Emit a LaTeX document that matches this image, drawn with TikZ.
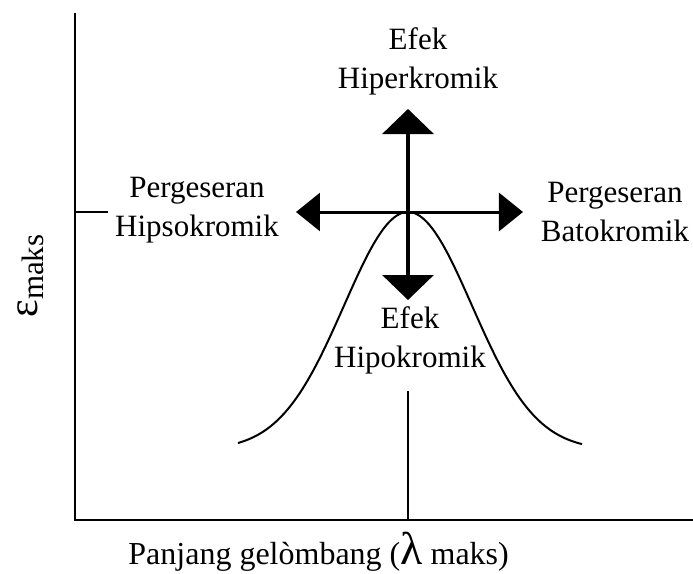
\documentclass[tikz,border=0pt]{standalone}
\usepackage{fontspec}
\setmainfont{Liberation Serif}
\usetikzlibrary{arrows.meta}
\begin{document}
\begin{tikzpicture}[x=0.5pt,y=-0.5pt,
  axis/.style={line width=1pt},
  curve/.style={line width=1pt},
  guide/.style={line width=0.6pt},
  vshift/.style={line width=1.8pt,-{Triangle[length=12.5pt,width=25.5pt]}},
  hshift/.style={line width=1.5pt,-{Triangle[length=12pt,width=19pt]}},
  lbl/.style={font=\fontsize{15.5}{19.5}\selectfont, align=center, inner sep=0pt}]
\useasboundingbox (0,0) rectangle (693,574);

% axes
\coordinate (ytop) at (75,13);
\coordinate (origin) at (75,520);
\coordinate (xend) at (693,520);
\draw[axis] (ytop) -- (origin) -- (xend);

% key points
\coordinate (peak) at (408,212);
\coordinate (up) at (408,109);
\coordinate (down) at (408,300);
\coordinate (left) at (296,212);
\coordinate (right) at (523,212);
\coordinate (tickL) at (75,212);
\coordinate (tickR) at (108,212);
\coordinate (lamtop) at (408,391);
\coordinate (lambase) at (408,520);

% guides for epsilon max and lambda max
\draw[guide] (tickL) -- (tickR);
\draw[guide] (lamtop) -- (lambase);

% absorption band
\draw[curve] plot[domain=238:582, samples=120, smooth]
  (\x,{450-238*exp(0-((\x-408)/100)*((\x-408)/100)/0.819)});

% shift arrows
\draw[vshift] (peak) -- (up);
\draw[vshift] (peak) -- (down);
\draw[hshift] (peak) -- (left);
\draw[hshift] (peak) -- (right);

% labels (base anchor = baseline of the last line)
\node[lbl, anchor=base] (hyper) at (418,88) {Efek\\Hiperkromik};
\node[lbl, anchor=base] (hypso) at (197,236) {Pergeseran\\Hipsokromik};
\node[lbl, anchor=base] (batho) at (615,241) {Pergeseran\\Batokromik};
\node[lbl, anchor=base] (hypo) at (410,367) {Efek\\Hipokromik};

\node[lbl, font=\fontsize{16}{19.5}\selectfont, anchor=base west] (xlab) at (128,564)
  {Panjang gelòmbang ({\fontsize{23}{23}\selectfont λ} maks)};
\node[lbl, rotate=90, anchor=base west] (ylab) at (38,318)
  {{\fontsize{21}{21}\selectfont ε}\raisebox{-3pt}{maks}};
\end{tikzpicture}
\end{document}
